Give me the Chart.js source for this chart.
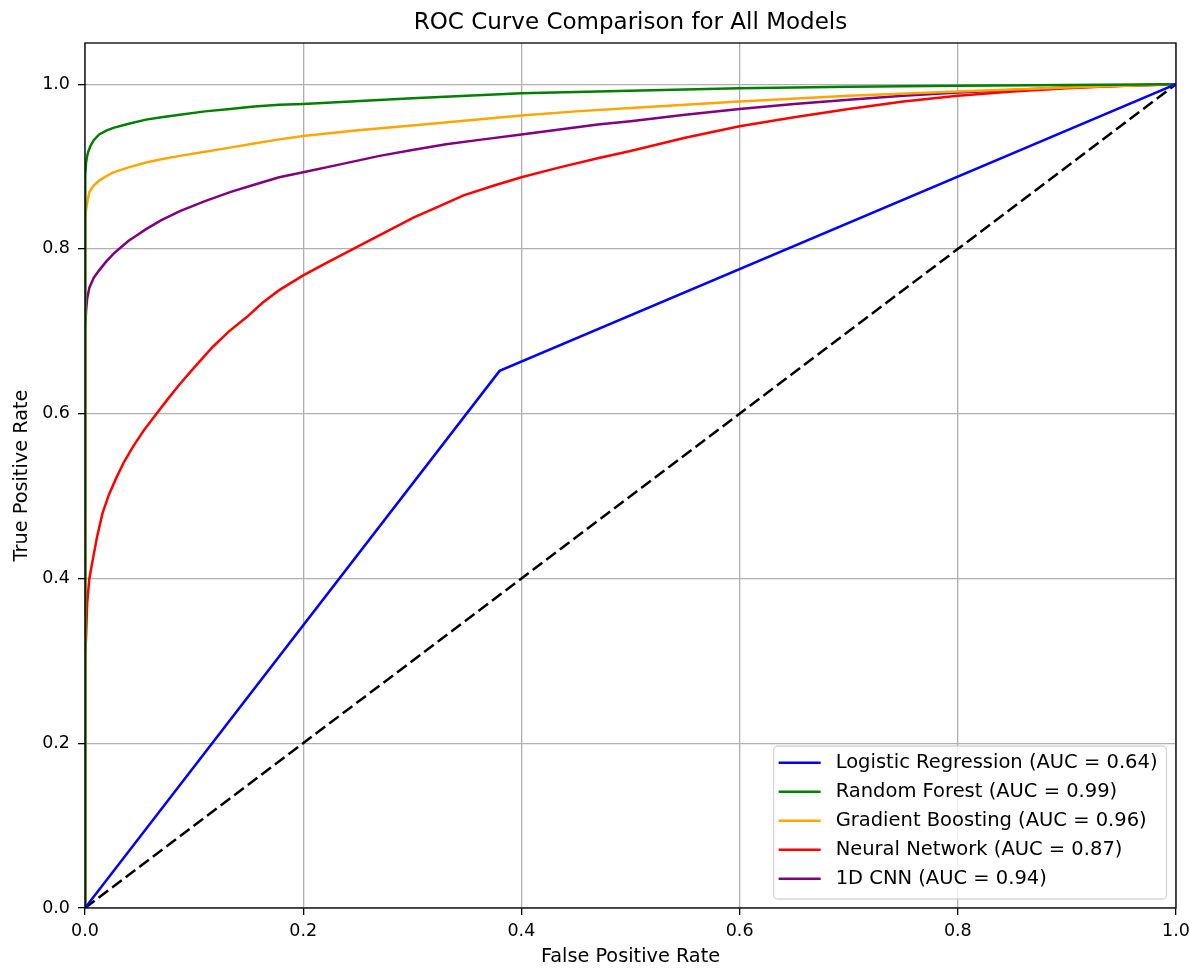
<!DOCTYPE html>
<html>
<head>
<meta charset="utf-8">
<script src="https://cdn.jsdelivr.net/npm/chart.js@4.4.1/dist/chart.umd.min.js"></script>
<style>
  html, body { margin: 0; padding: 0; background: #fff; }
  #wrap { width: 1190px; height: 969px; position: relative; }
</style>
</head>
<body>
<div id="wrap"><canvas id="roc"></canvas></div>
<script>
// ROC points (fpr / tpr pairs per model)
const lrFpr = [0, 0.38, 1];
const lrTpr = [0, 0.652, 1];

const rfFpr = [0, 0, 0.0005, 0.001, 0.002, 0.003, 0.005, 0.008, 0.013, 0.02, 0.026, 0.04, 0.056, 0.07, 0.087, 0.11, 0.133, 0.155, 0.178, 0.2, 0.3, 0.4, 0.5, 0.6, 0.7, 0.8, 0.9, 1];
const rfTpr = [0, 0.86, 0.89, 0.905, 0.913, 0.918, 0.925, 0.932, 0.939, 0.944, 0.947, 0.952, 0.957, 0.960, 0.963, 0.967, 0.970, 0.973, 0.975, 0.976, 0.983, 0.989, 0.992, 0.995, 0.997, 0.998, 0.999, 1];

const gbFpr = [0, 0, 0.0005, 0.001, 0.002, 0.004, 0.008, 0.013, 0.019, 0.026, 0.04, 0.056, 0.07, 0.087, 0.11, 0.133, 0.155, 0.178, 0.2, 0.25, 0.3, 0.35, 0.4, 0.45, 0.5, 0.6, 0.7, 0.8, 0.9, 1];
const gbTpr = [0, 0.80, 0.838, 0.848, 0.856, 0.869, 0.877, 0.883, 0.888, 0.893, 0.899, 0.905, 0.909, 0.913, 0.918, 0.923, 0.928, 0.933, 0.937, 0.944, 0.950, 0.956, 0.962, 0.967, 0.971, 0.979, 0.986, 0.991, 0.996, 1];

const nnFpr = [0, 0, 0.001, 0.002, 0.004, 0.007, 0.011, 0.016, 0.022, 0.029, 0.036, 0.044, 0.054, 0.065, 0.076, 0.087, 0.1, 0.117, 0.132, 0.148, 0.163, 0.178, 0.2, 0.224, 0.246, 0.275, 0.301, 0.325, 0.347, 0.375, 0.4, 0.435, 0.47, 0.5, 0.55, 0.6, 0.65, 0.7, 0.75, 0.8, 0.85, 0.9, 0.95, 1];
const nnTpr = [0, 0.30, 0.33, 0.37, 0.40, 0.422, 0.45, 0.479, 0.502, 0.523, 0.542, 0.560, 0.580, 0.599, 0.618, 0.636, 0.656, 0.681, 0.700, 0.717, 0.735, 0.750, 0.768, 0.785, 0.800, 0.820, 0.838, 0.852, 0.865, 0.877, 0.887, 0.899, 0.910, 0.919, 0.935, 0.949, 0.960, 0.970, 0.979, 0.986, 0.991, 0.995, 0.998, 1];

const cnnFpr = [0, 0, 0.001, 0.002, 0.004, 0.008, 0.013, 0.019, 0.026, 0.033, 0.04, 0.048, 0.056, 0.07, 0.087, 0.11, 0.133, 0.155, 0.178, 0.2, 0.235, 0.27, 0.3, 0.331, 0.365, 0.4, 0.435, 0.47, 0.5, 0.55, 0.6, 0.65, 0.7, 0.75, 0.8, 0.9, 1];
const cnnTpr = [0, 0.70, 0.725, 0.74, 0.753, 0.765, 0.774, 0.784, 0.794, 0.802, 0.81, 0.817, 0.824, 0.835, 0.846, 0.858, 0.869, 0.878, 0.887, 0.893, 0.903, 0.913, 0.920, 0.927, 0.933, 0.939, 0.945, 0.951, 0.955, 0.963, 0.970, 0.976, 0.981, 0.986, 0.990, 0.996, 1];

const chanceFpr = [0, 1];
const chanceTpr = [0, 1];

const modelNames = ['Logistic Regression', 'Random Forest', 'Gradient Boosting', 'Neural Network', '1D CNN'];
const modelAuc = [0.64, 0.99, 0.96, 0.87, 0.94];
const modelColors = ['#0000ff', '#008000', '#ffa500', '#ff0000', '#800080'];

const xTicks = [0, 0.2, 0.4, 0.6, 0.8, 1.0];
const yTicks = [0, 0.2, 0.4, 0.6, 0.8, 1.0];

const FONT = "'DejaVu Sans', sans-serif";

function toPoints(xs, ys) {
    return xs.map((x, i) => ({ x: x, y: ys[i] }));
}

const curves = [[lrFpr, lrTpr], [rfFpr, rfTpr], [gbFpr, gbTpr], [nnFpr, nnTpr], [cnnFpr, cnnTpr]];

const datasets = curves.map((c, i) => ({
    label: `${modelNames[i]} (AUC = ${modelAuc[i].toFixed(2)})`,
    data: toPoints(c[0], c[1]),
    borderColor: modelColors[i],
    borderWidth: 2.5,
    showLine: true,
    pointRadius: 0,
    tension: 0,
    fill: false
}));
datasets.push({
    label: 'chance',
    data: toPoints(chanceFpr, chanceTpr),
    borderColor: '#000000',
    borderWidth: 2.5,
    borderDash: [12, 5],
    showLine: true,
    pointRadius: 0,
    fill: false
});

// frame, title and matplotlib-like legend in the lower right
const mplDecor = {
    id: 'mplDecor',
    beforeDraw(chart) {
        const ctx = chart.ctx;
        ctx.save();
        ctx.fillStyle = '#ffffff';
        ctx.fillRect(0, 0, chart.width, chart.height);
        ctx.restore();
    },
    afterDatasetsDraw(chart) {
        const ctx = chart.ctx;
        const a = chart.chartArea;
        ctx.save();
        ctx.strokeStyle = '#000000';
        ctx.lineWidth = 1.3;
        ctx.strokeRect(a.left, a.top, a.right - a.left, a.bottom - a.top);

        // legend box
        ctx.font = `19.5px ${FONT}`;
        const labels = datasets.slice(0, 5).map(d => d.label);
        const textW = Math.max(...labels.map(t => ctx.measureText(t).width));
        const boxW = 5 + 42 + 15 + textW + 9;
        const boxH = 153;
        const right = a.right - 9.5;
        const bottom = a.bottom - 9;
        const left = right - boxW;
        const top = bottom - boxH;
        ctx.beginPath();
        ctx.roundRect(left, top, boxW, boxH, 4);
        ctx.fillStyle = 'rgba(255,255,255,0.8)';
        ctx.fill();
        ctx.strokeStyle = 'rgba(204,204,204,0.8)';
        ctx.lineWidth = 1.3;
        ctx.stroke();
        ctx.textBaseline = 'middle';
        ctx.textAlign = 'left';
        labels.forEach((t, i) => {
            const y = top + 16.7 + 29 * i;
            ctx.beginPath();
            ctx.moveTo(left + 5, y);
            ctx.lineTo(left + 47, y);
            ctx.strokeStyle = modelColors[i];
            ctx.lineWidth = 2.5;
            ctx.stroke();
            ctx.fillStyle = '#000000';
            ctx.fillText(t, left + 62, y);
        });
        ctx.restore();
    },
    afterDraw(chart) {
        const ctx = chart.ctx;
        const a = chart.chartArea;
        ctx.save();
        ctx.font = `23px ${FONT}`;
        ctx.fillStyle = '#000000';
        ctx.textAlign = 'center';
        ctx.textBaseline = 'middle';
        ctx.fillText('ROC Curve Comparison for All Models', (a.left + a.right) / 2, 23);
        ctx.restore();
    }
};

function keepTicks(list) {
    return function (scale) {
        scale.ticks = list.map(v => ({ value: v }));
    };
}

new Chart(document.getElementById('roc'), {
    type: 'scatter',
    data: { datasets: datasets },
    options: {
        responsive: true,
        maintainAspectRatio: false,
        animation: false,
        devicePixelRatio: 1,
        layout: { padding: { top: 43, right: 14, left: 0, bottom: 0 } },
        plugins: {
            legend: { display: false },
            title: { display: false },
            tooltip: { enabled: false }
        },
        scales: {
            x: {
                type: 'linear',
                min: 0,
                max: 1,
                afterBuildTicks: keepTicks(xTicks),
                afterFit(scale) {
                    scale.height = 61;
                    scale.paddingLeft = 0;
                    scale.paddingRight = 0;
                },
                ticks: {
                    color: '#000000',
                    font: { family: FONT, size: 17.5 },
                    padding: 6,
                    maxRotation: 0,
                    callback: v => v.toFixed(1)
                },
                grid: {
                    color: '#b0b0b0',
                    lineWidth: 1.3,
                    drawTicks: true,
                    tickLength: 7,
                    tickColor: '#000000',
                    tickWidth: 1.3
                },
                border: { display: false },
                title: {
                    display: true,
                    text: 'False Positive Rate',
                    color: '#000000',
                    font: { family: FONT, size: 19.3 },
                    padding: { top: 0, bottom: 0 }
                }
            },
            y: {
                type: 'linear',
                min: 0,
                max: 1.05,
                afterBuildTicks: keepTicks(yTicks),
                afterFit(scale) { scale.width = 85; },
                ticks: {
                    color: '#000000',
                    font: { family: FONT, size: 17.5 },
                    padding: 8,
                    callback: v => v.toFixed(1)
                },
                grid: {
                    color: '#b0b0b0',
                    lineWidth: 1.3,
                    drawTicks: true,
                    tickLength: 7,
                    tickColor: '#000000',
                    tickWidth: 1.3
                },
                border: { display: false },
                title: {
                    display: true,
                    text: 'True Positive Rate',
                    color: '#000000',
                    font: { family: FONT, size: 19.3 },
                    padding: { top: 10, bottom: 0 }
                }
            }
        }
    },
    plugins: [mplDecor]
});
</script>
</body>
</html>
